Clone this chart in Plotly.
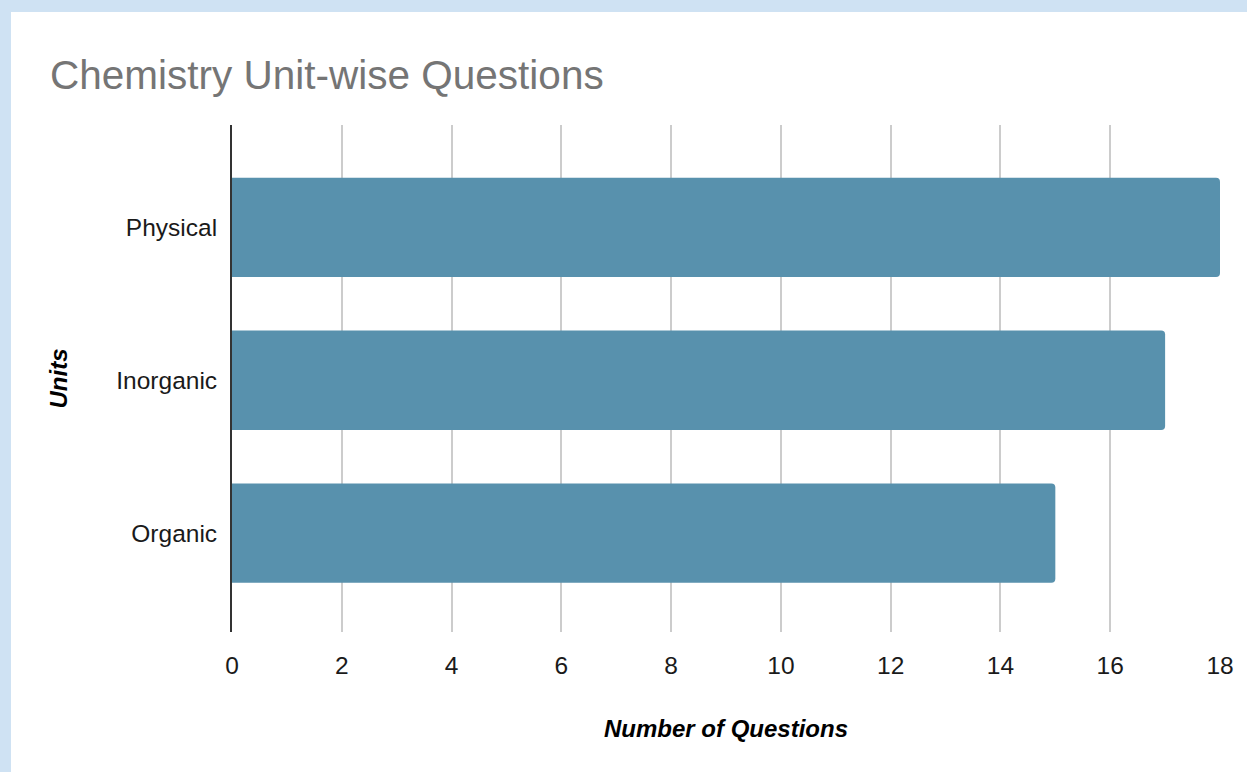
import plotly.graph_objects as go

units = ["Organic", "Inorganic", "Physical"]
questions = [15, 17, 18]
x_ticks = [0, 2, 4, 6, 8, 10, 12, 14, 16, 18]

W, H = 1247, 772
L, R, T, B = 232, 1220, 125, 632
pw, ph = R - L, B - T

def px2x(p):
    return (p - L) / pw

def py2y(p):
    return (B - p) / ph

fig = go.Figure(go.Bar(
    x=questions, y=units, orientation="h",
    marker=dict(color="#5891AD", line=dict(width=0)),
    width=0.65,
))

fig.update_layout(
    width=W, height=H,
    margin=dict(l=L, r=W - R, t=T, b=H - B, autoexpand=False),
    paper_bgcolor="#CFE2F3",
    plot_bgcolor="#FFFFFF",
    barcornerradius=4,
    showlegend=False,
    font=dict(family="Arial, Liberation Sans, sans-serif", size=24, color="#1A1A1A"),
    title=dict(
        text="Chemistry Unit-wise Questions",
        font=dict(size=40.5, color="#757575"),
        x=50 / W, xanchor="left",
        y=1 - 75 / H, yanchor="middle",
    ),
    shapes=[dict(
        type="rect", xref="paper", yref="paper", layer="below",
        x0=px2x(11), x1=px2x(1300), y0=py2y(900), y1=py2y(12),
        fillcolor="#FFFFFF", line=dict(width=0),
    )],
    xaxis=dict(
        range=[0, 18], tickvals=x_ticks,
        showgrid=True, gridcolor="#CCCCCC", gridwidth=2,
        zeroline=False, showline=False, ticks="",
        tickfont=dict(size=24.5, color="#1A1A1A"),
        ticklabelstandoff=16,
        title=dict(text="<b><i>Number of Questions</i></b>",
                   font=dict(size=24, color="#000000"), standoff=42),
        automargin=False,
    ),
    yaxis=dict(
        categoryorder="array", categoryarray=units,
        range=[-0.647, 2.67],
        showgrid=False, zeroline=False,
        showline=True, linecolor="#333333", linewidth=2,
        ticks="", tickfont=dict(size=24.5, color="#1A1A1A"),
        ticklabelstandoff=8,
        title=dict(text="<b><i>Units</i></b>",
                   font=dict(size=24, color="#000000"), standoff=42),
        automargin=False,
    ),
)

fig.write_html(
    "out.html",
    config={"displayModeBar": False},
    post_script="document.body.style.margin='0';document.body.style.overflow='hidden';document.body.style.background='#CFE2F3';",
)
